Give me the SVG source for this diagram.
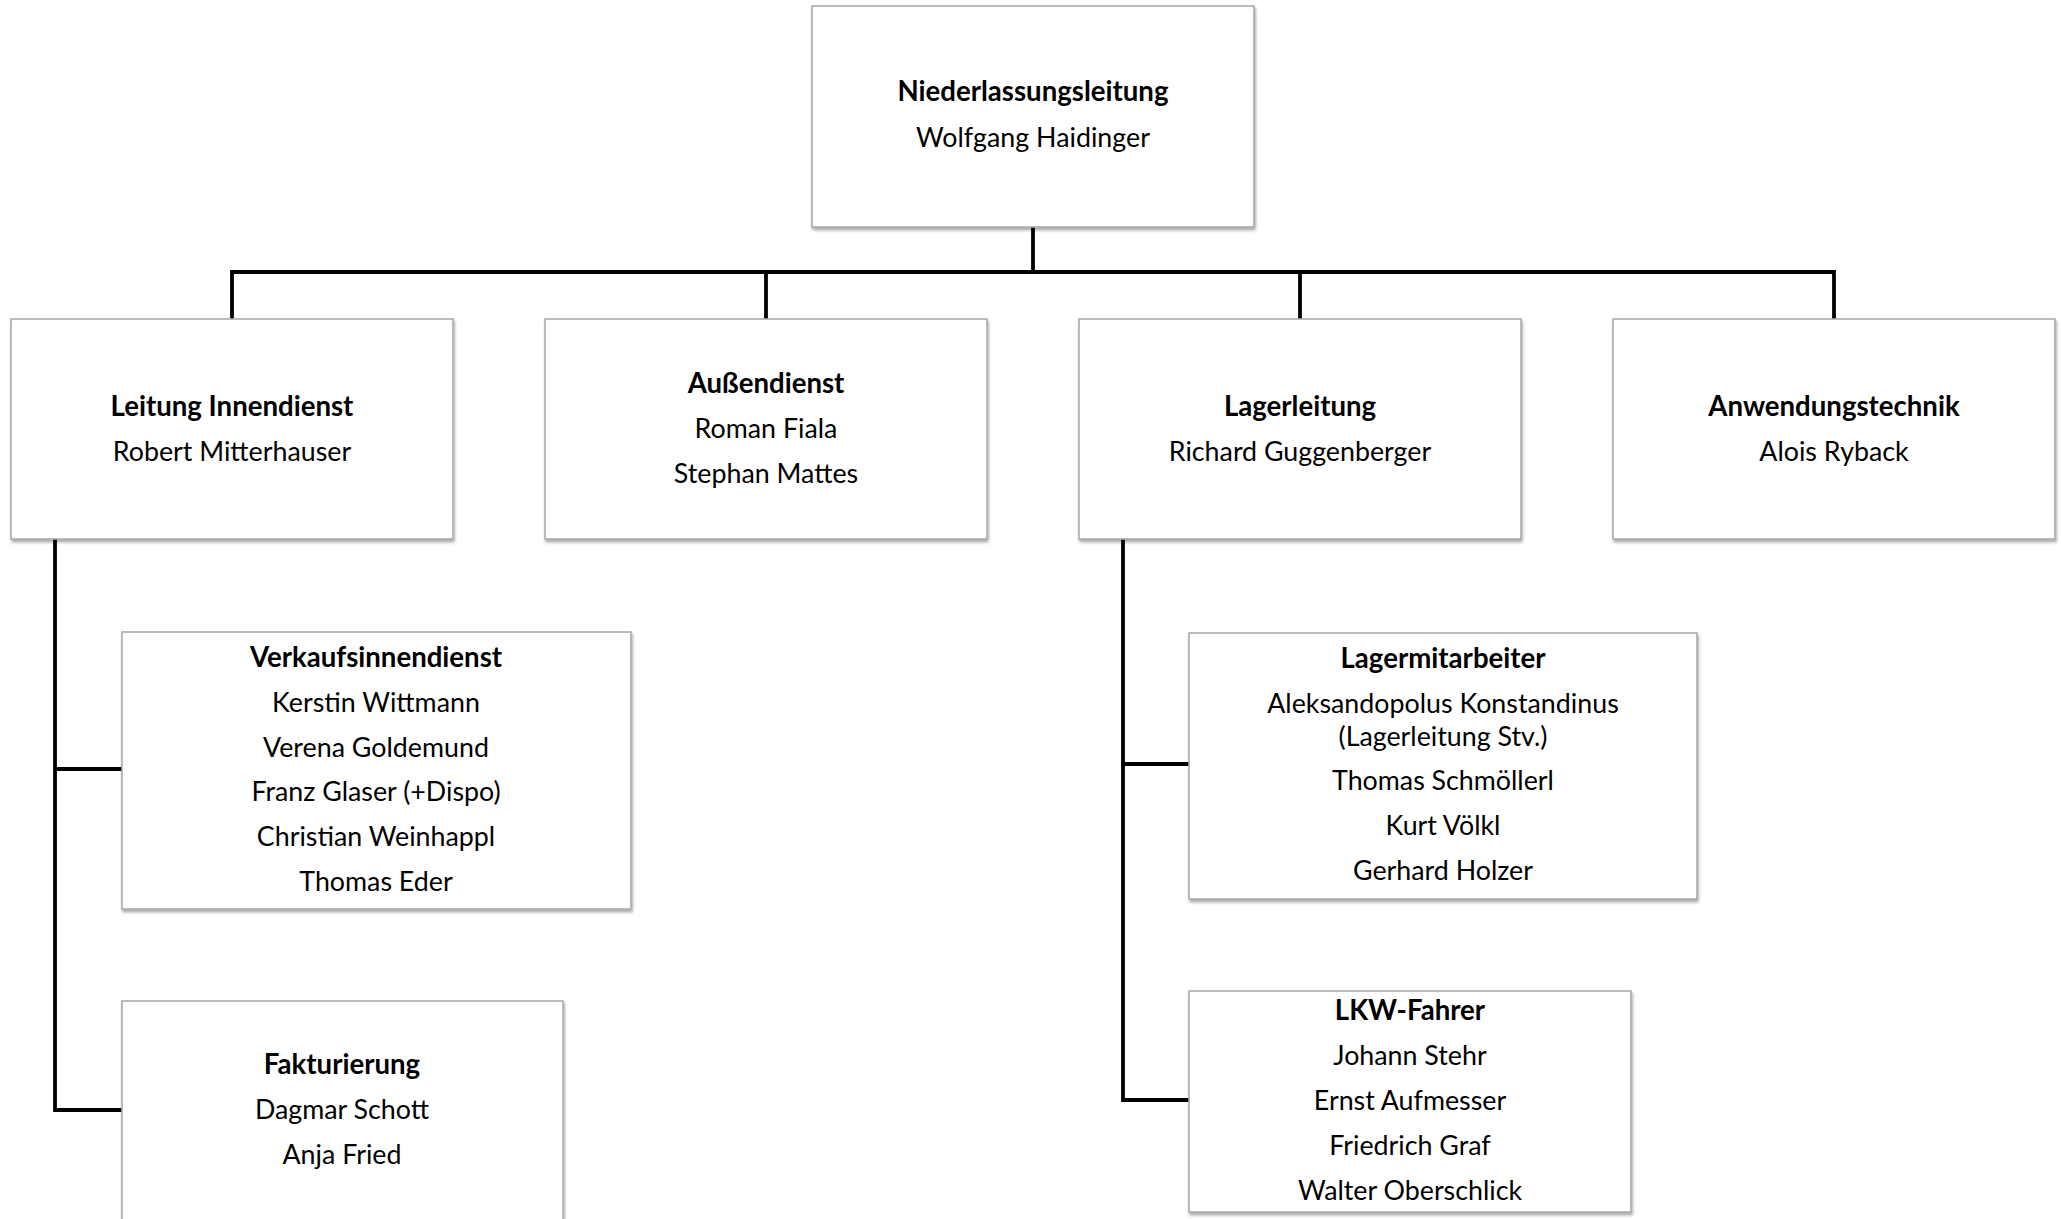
<svg xmlns="http://www.w3.org/2000/svg" width="2061" height="1219" viewBox="0 0 2061 1219">
<defs>
<filter id="sh" x="-5%" y="-5%" width="110%" height="115%">
<feDropShadow dx="1" dy="2.5" stdDeviation="1.5" flood-color="#000" flood-opacity="0.35"/>
</filter>
<style>
.box{fill:#fff;stroke:#a6a6a6;stroke-width:1.5;filter:url(#sh)}
.t{font-family:Lato,"Open Sans",sans-serif;font-size:26.8px;text-anchor:middle;fill:#000}
.b{font-weight:bold;font-size:27.6px}
.conn{fill:none;stroke:#000;stroke-width:3.8;stroke-linejoin:miter}
</style>
</defs>
<rect width="2061" height="1219" fill="#fff"/>
<g id="connectors" class="conn">
<path d="M1033,227 V272"/>
<path d="M232,319 V272 H1834 V319"/>
<path d="M766,272 V319"/>
<path d="M1300,272 V319"/>
<path d="M55,539 V1110 H122"/>
<path d="M55,769 H122"/>
<path d="M1123,539 V1100 H1189"/>
<path d="M1123,764 H1189"/>
</g>
<g id="n-niederlassungsleitung">
<rect class="box" x="812" y="6" width="442" height="221"/>
<text class="t b" x="1033" y="101">Niederlassungsleitung</text>
<text class="t" x="1033" y="147">Wolfgang Haidinger</text>
</g>
<g id="n-leitung-innendienst">
<rect class="box" x="11" y="319" width="442" height="220"/>
<text class="t b" x="232" y="416">Leitung Innendienst</text>
<text class="t" x="232" y="461">Robert Mitterhauser</text>
</g>
<g id="n-aussendienst">
<rect class="box" x="545" y="319" width="442" height="220"/>
<text class="t b" x="766" y="393">Außendienst</text>
<text class="t" x="766" y="438">Roman Fiala</text>
<text class="t" x="766" y="483">Stephan Mattes</text>
</g>
<g id="n-lagerleitung">
<rect class="box" x="1079" y="319" width="442" height="220"/>
<text class="t b" x="1300" y="416">Lagerleitung</text>
<text class="t" x="1300" y="461">Richard Guggenberger</text>
</g>
<g id="n-anwendungstechnik">
<rect class="box" x="1613" y="319" width="442" height="220"/>
<text class="t b" x="1834" y="416">Anwendungstechnik</text>
<text class="t" x="1834" y="461">Alois Ryback</text>
</g>
<g id="n-verkaufsinnendienst">
<rect class="box" x="122" y="632" width="509" height="277"/>
<text class="t b" x="376" y="667">Verkaufsinnendienst</text>
<text class="t" x="376" y="712">Kerstin Wittmann</text>
<text class="t" x="376" y="757">Verena Goldemund</text>
<text class="t" x="376" y="801">Franz Glaser (+Dispo)</text>
<text class="t" x="376" y="846">Christian Weinhappl</text>
<text class="t" x="376" y="891">Thomas Eder</text>
</g>
<g id="n-fakturierung">
<rect class="box" x="122" y="1001" width="441" height="230"/>
<text class="t b" x="342" y="1074">Fakturierung</text>
<text class="t" x="342" y="1119">Dagmar Schott</text>
<text class="t" x="342" y="1164">Anja Fried</text>
</g>
<g id="n-lagermitarbeiter">
<rect class="box" x="1189" y="633" width="508" height="266"/>
<text class="t b" x="1443" y="668">Lagermitarbeiter</text>
<text class="t" x="1443" y="713">Aleksandopolus Konstandinus</text>
<text class="t" x="1443" y="746">(Lagerleitung Stv.)</text>
<text class="t" x="1443" y="790">Thomas Schmöllerl</text>
<text class="t" x="1443" y="835">Kurt Völkl</text>
<text class="t" x="1443" y="880">Gerhard Holzer</text>
</g>
<g id="n-lkw-fahrer">
<rect class="box" x="1189" y="991" width="442" height="221"/>
<text class="t b" x="1410" y="1020">LKW-Fahrer</text>
<text class="t" x="1410" y="1065">Johann Stehr</text>
<text class="t" x="1410" y="1110">Ernst Aufmesser</text>
<text class="t" x="1410" y="1155">Friedrich Graf</text>
<text class="t" x="1410" y="1200">Walter Oberschlick</text>
</g>
</svg>
